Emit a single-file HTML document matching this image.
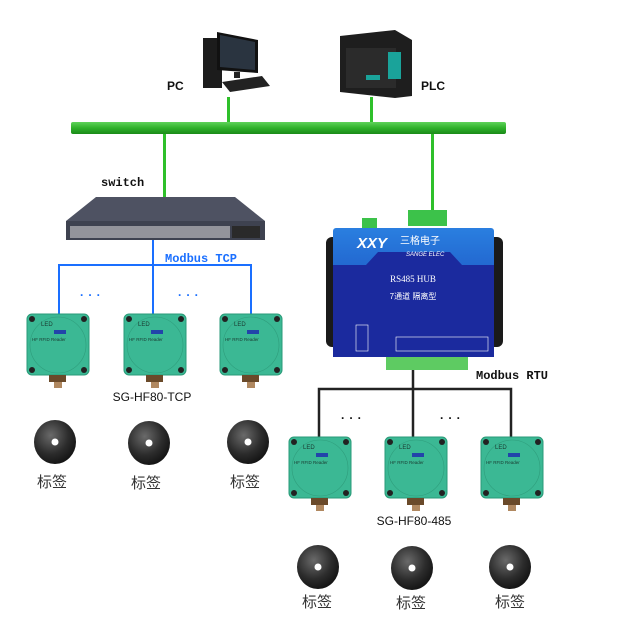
<!DOCTYPE html>
<html><head><meta charset="utf-8"><style>
html,body{margin:0;padding:0;background:#fff;}
svg{display:block;}
text{font-family:"Liberation Sans","Noto Sans CJK SC",sans-serif;}
</style></head><body>
<svg width="621" height="617" viewBox="0 0 621 617" xmlns="http://www.w3.org/2000/svg">
<defs>
<linearGradient id="bus" x1="0" y1="0" x2="0" y2="1"><stop offset="0" stop-color="#5fd35a"/><stop offset="0.5" stop-color="#2fb12a"/><stop offset="1" stop-color="#1a8a18"/></linearGradient>
<radialGradient id="tag" cx="0.4" cy="0.35" r="0.7"><stop offset="0" stop-color="#6a6a6a"/><stop offset="0.6" stop-color="#2c2c2c"/><stop offset="1" stop-color="#111"/></radialGradient>
<linearGradient id="hub" x1="0" y1="0" x2="0" y2="1"><stop offset="0" stop-color="#2a7fe0"/><stop offset="0.45" stop-color="#1e5cc8"/><stop offset="1" stop-color="#13239a"/></linearGradient>
<g id="reader">
<rect x="0" y="0" width="62" height="61" rx="5" fill="#3bb894" stroke="#2a9a78"/>
<circle cx="31" cy="31" r="28" fill="none" stroke="#2f9d7c" stroke-width="0.6"/>
<circle cx="5" cy="5" r="3" fill="#222"/><circle cx="57" cy="5" r="3" fill="#222"/>
<circle cx="5" cy="56" r="3" fill="#222"/><circle cx="57" cy="56" r="3" fill="#222"/>
<text x="14" y="12" font-size="6" fill="#1a3a30">LED</text>
<text x="5" y="27" font-size="4.5" fill="#1a3a30">HF RFID Reader</text>
<rect x="27" y="16" width="12" height="4" fill="#2244aa"/>
<rect x="22" y="61" width="17" height="7" fill="#6a4a2a"/>
<rect x="27" y="68" width="8" height="6" fill="#b08860"/>
</g>
<g id="tagg">
<ellipse cx="0" cy="0" rx="21" ry="22" fill="url(#tag)"/>
<ellipse cx="0" cy="0" rx="3.5" ry="3.5" fill="#fff"/>
</g>
</defs>

<!-- PC -->
<rect x="203" y="38" width="19" height="50" fill="#1c1c1c"/>
<polygon points="217,32 258,40 258,73 217,70" fill="#111"/>
<polygon points="220,35 255,42 255,70 220,67" fill="#2a3440"/>
<rect x="234" y="72" width="6" height="6" fill="#222"/>
<polygon points="222,82 262,76 270,86 230,92" fill="#222"/>
<!-- PLC -->
<polygon points="340,36 395,30 412,40 412,96 395,98 340,92" fill="#1e1e1e"/>
<rect x="346" y="48" width="50" height="40" fill="#2b2b2b"/>
<rect x="388" y="52" width="13" height="27" fill="#1aa39a"/>
<rect x="366" y="75" width="14" height="5" fill="#1aa39a"/>
<text x="167" y="90" font-size="12" font-weight="bold" fill="#111">PC</text>
<text x="421" y="90" font-size="12" font-weight="bold" fill="#111">PLC</text>

<!-- green lines -->
<rect x="227" y="97" width="3" height="26" fill="#2fc02a"/>
<rect x="370" y="97" width="3" height="26" fill="#2fc02a"/>
<rect x="71" y="122" width="435" height="12" rx="2" fill="url(#bus)"/>
<rect x="163" y="134" width="3" height="64" fill="#2fc02a"/>
<rect x="431" y="134" width="3" height="78" fill="#2fc02a"/>

<text x="101" y="186" font-size="12" font-weight="bold" fill="#111" style="font-family:'Liberation Mono',monospace">switch</text>
<!-- switch -->
<polygon points="96,197 235,197 265,221 66,221" fill="#4e5262"/>
<rect x="66" y="221" width="199" height="19" fill="#3e4250"/>
<rect x="70" y="226" width="160" height="12" fill="#d8d8d8" opacity="0.55"/>
<rect x="232" y="226" width="28" height="12" fill="#2a2a2a"/>

<!-- blue -->
<g stroke="#1a6fff" stroke-width="2" fill="none">
<line x1="153" y1="240" x2="153" y2="314"/>
<polyline points="59,314 59,265 251,265 251,314"/>
</g>
<text x="165" y="262" font-size="12" font-weight="bold" fill="#1a6fff" style="font-family:'Liberation Mono',monospace">Modbus TCP</text>
<text x="80" y="296" font-size="12" font-weight="bold" fill="#1a6fff" letter-spacing="5">...</text>
<text x="178" y="296" font-size="12" font-weight="bold" fill="#1a6fff" letter-spacing="5">...</text>

<use href="#reader" x="27" y="314"/>
<use href="#reader" x="124" y="314"/>
<use href="#reader" x="220" y="314"/>
<text x="152" y="401" font-size="12" fill="#111" text-anchor="middle">SG-HF80-TCP</text>
<use href="#tagg" x="55" y="442"/>
<use href="#tagg" x="149" y="443"/>
<use href="#tagg" x="248" y="442"/>
<text x="52" y="487" font-size="15" fill="#333" text-anchor="middle">标签</text>
<text x="146" y="488" font-size="15" fill="#333" text-anchor="middle">标签</text>
<text x="245" y="487" font-size="15" fill="#333" text-anchor="middle">标签</text>

<!-- hub -->
<rect x="408" y="210" width="39" height="16" fill="#3cc24a"/>
<rect x="362" y="218" width="15" height="10" fill="#3cc24a"/>
<rect x="326" y="237" width="177" height="110" rx="6" fill="#1a1a1a"/>
<rect x="333" y="228" width="161" height="129" rx="3" fill="url(#hub)"/>
<polygon points="333,265 366,265 378,252 450,252 462,265 494,265 494,357 333,357" fill="#1b2a9e"/>
<text x="357" y="248" font-size="15" font-weight="bold" font-style="italic" fill="#fff">XXY</text>
<text x="400" y="244" font-size="10" fill="#fff">三格电子</text>
<text x="406" y="256" font-size="6" font-style="italic" fill="#fff">SANGE ELEC</text>
<text x="413" y="282" font-size="9" fill="#fff" text-anchor="middle" style="font-family:'Liberation Serif',serif">RS485 HUB</text>
<text x="413" y="299" font-size="8" fill="#fff" text-anchor="middle">7通道  隔离型</text>
<rect x="396" y="337" width="92" height="14" fill="none" stroke="#fff" stroke-width="0.6"/>
<rect x="356" y="325" width="12" height="26" fill="none" stroke="#fff" stroke-width="0.6"/>
<rect x="386" y="357" width="82" height="13" fill="#5ecb62"/>

<!-- right lines -->
<g stroke="#222" stroke-width="2.5" fill="none">
<line x1="413" y1="370" x2="413" y2="437"/>
<polyline points="319,437 319,389 511,389 511,437"/>
</g>
<text x="476" y="379" font-size="12" font-weight="bold" fill="#111" style="font-family:'Liberation Mono',monospace">Modbus RTU</text>
<text x="341" y="419" font-size="12" font-weight="bold" fill="#111" letter-spacing="5">...</text>
<text x="440" y="419" font-size="12" font-weight="bold" fill="#111" letter-spacing="5">...</text>

<use href="#reader" x="289" y="437"/>
<use href="#reader" x="385" y="437"/>
<use href="#reader" x="481" y="437"/>
<text x="414" y="525" font-size="12" fill="#111" text-anchor="middle">SG-HF80-485</text>
<use href="#tagg" x="318" y="567"/>
<use href="#tagg" x="412" y="568"/>
<use href="#tagg" x="510" y="567"/>
<text x="317" y="607" font-size="15" fill="#333" text-anchor="middle">标签</text>
<text x="411" y="608" font-size="15" fill="#333" text-anchor="middle">标签</text>
<text x="510" y="607" font-size="15" fill="#333" text-anchor="middle">标签</text>
</svg>
</body></html>
